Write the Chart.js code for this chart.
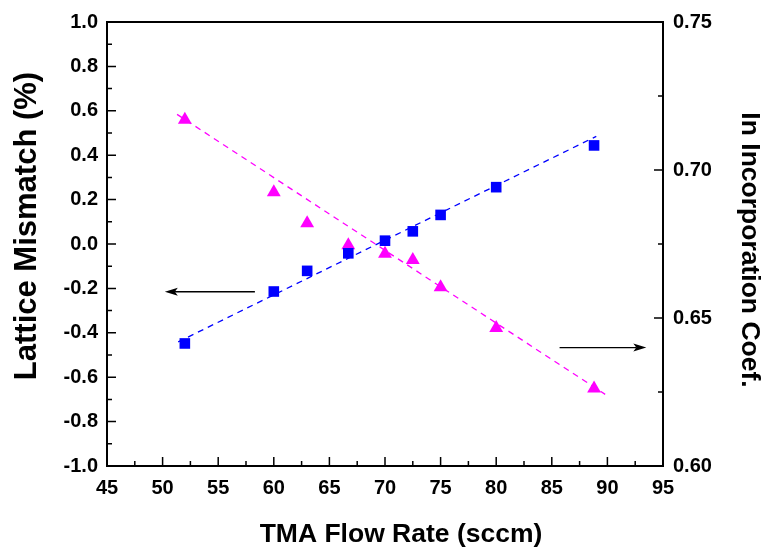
<!DOCTYPE html>
<html>
<head>
<meta charset="utf-8">
<script src="https://cdn.jsdelivr.net/npm/chart.js@4/dist/chart.umd.min.js"></script>
<style>
  html, body { margin: 0; padding: 0; background: #fff; }
  #wrap { width: 764px; height: 553px; }
</style>
</head>
<body>
<div id="wrap"><canvas id="chart" width="764" height="553"></canvas></div>
<script>
// ===== DATA =====
const flowRate  = [52, 60, 63, 66.7, 70, 72.5, 75, 80, 88.8];
const mismatch  = [-0.448, -0.214, -0.121, -0.042, 0.015, 0.057, 0.131, 0.256, 0.444];
const inCoef    = [0.717, 0.6925, 0.682, 0.6746, 0.6717, 0.6696, 0.6604, 0.6466, 0.6262];

// dashed fit lines (end points)
const fitMismatchX = [51.4, 89.0];
const fitMismatchY = [-0.441, 0.485];
const fitCoefX     = [51.3, 89.8];
const fitCoefY     = [0.7188, 0.6242];

// arrows pointing at each series' axis: [xFrom, xTo, y]
const arrowLeft  = [58.3, 50.2, -0.215];
const arrowRight = [85.7, 93.5, 0.640];

const xTicks  = [45, 50, 55, 60, 65, 70, 75, 80, 85, 90, 95];
const yTicks  = [-1.0, -0.8, -0.6, -0.4, -0.2, 0.0, 0.2, 0.4, 0.6, 0.8, 1.0];
const y1Ticks = [0.60, 0.65, 0.70, 0.75];

const xTitle  = 'TMA Flow Rate (sccm)';
const yTitle  = 'Lattice Mismatch (%)';
const y1Title = 'In Incorporation Coef.';

const BLUE = '#0000ff';
const MAGENTA = '#ff00ff';
const FONT = '"Liberation Sans", Arial, sans-serif';

const pts = (xs, ys) => xs.map((x, i) => ({ x, y: ys[i] }));

// inward ticks, top border, arrows and axis titles
const framePlugin = {
  id: 'frame',
  afterDatasetsDraw(chart) {
    const { ctx, chartArea: a, scales } = chart;
    const { x, y, y1 } = scales;
    ctx.save();
    ctx.strokeStyle = '#000';
    ctx.lineWidth = 2;
    ctx.beginPath();
    ctx.moveTo(a.left, a.top);
    ctx.lineTo(a.right, a.top);
    ctx.stroke();

    ctx.lineWidth = 1.5;
    const MAJ = 9, MIN = 5;
    ctx.beginPath();
    xTicks.forEach((v, i) => {
      const px = x.getPixelForValue(v);
      ctx.moveTo(px, a.bottom); ctx.lineTo(px, a.bottom - MAJ);
      if (i < xTicks.length - 1) {
        const pm = x.getPixelForValue(v + 2.5);
        ctx.moveTo(pm, a.bottom); ctx.lineTo(pm, a.bottom - MIN);
      }
    });
    yTicks.forEach((v, i) => {
      const py = y.getPixelForValue(v);
      ctx.moveTo(a.left, py); ctx.lineTo(a.left + MAJ, py);
      if (i < yTicks.length - 1) {
        const pm = y.getPixelForValue(v + 0.1);
        ctx.moveTo(a.left, pm); ctx.lineTo(a.left + MIN, pm);
      }
    });
    y1Ticks.forEach((v, i) => {
      const py = y1.getPixelForValue(v);
      ctx.moveTo(a.right, py); ctx.lineTo(a.right - MAJ, py);
      if (i < y1Ticks.length - 1) {
        const pm = y1.getPixelForValue(v + 0.025);
        ctx.moveTo(a.right, pm); ctx.lineTo(a.right - MIN, pm);
      }
    });
    ctx.stroke();

    const arrow = (scaleY, [x0, x1, v]) => {
      const p0 = x.getPixelForValue(x0), p1 = x.getPixelForValue(x1);
      const py = scaleY.getPixelForValue(v);
      const dir = Math.sign(p1 - p0);
      ctx.lineWidth = 1.3;
      ctx.beginPath();
      ctx.moveTo(p0, py); ctx.lineTo(p1 - dir * 10, py);
      ctx.stroke();
      ctx.beginPath();
      ctx.moveTo(p1, py);
      ctx.lineTo(p1 - dir * 13, py - 4);
      ctx.lineTo(p1 - dir * 10, py);
      ctx.lineTo(p1 - dir * 13, py + 4);
      ctx.closePath();
      ctx.fillStyle = '#000';
      ctx.fill();
    };
    arrow(y, arrowLeft);
    arrow(y1, arrowRight);

    // axis titles (placed as in the original figure, slightly off-centre)
    const title = (text, size, cx, cy, rot) => {
      ctx.save();
      ctx.translate(cx, cy);
      ctx.rotate(rot);
      ctx.font = `bold ${size}px ${FONT}`;
      ctx.fillStyle = '#000';
      ctx.textAlign = 'center';
      ctx.textBaseline = 'middle';
      ctx.fillText(text, 0, 0);
      ctx.restore();
    };
    title(xTitle, 26.5, 401, 535, 0);
    title(yTitle, 31, 27, 226, -Math.PI / 2);
    title(y1Title, 26.5, 749, 250, Math.PI / 2);
    ctx.restore();
  }
};

new Chart(document.getElementById('chart'), {
  type: 'scatter',
  data: {
    datasets: [
      { data: pts(fitMismatchX, fitMismatchY), yAxisID: 'y', showLine: true, borderColor: BLUE,
        borderWidth: 1.3, borderDash: [6, 5], pointRadius: 0 },
      { data: pts(fitCoefX, fitCoefY), yAxisID: 'y1', showLine: true, borderColor: MAGENTA,
        borderWidth: 1.3, borderDash: [6, 5], pointRadius: 0 },
      { data: pts(flowRate, mismatch), yAxisID: 'y', pointStyle: 'rect', pointRadius: 7.5,
        backgroundColor: BLUE, borderColor: BLUE, borderWidth: 0 },
      { data: pts(flowRate, inCoef), yAxisID: 'y1', pointStyle: 'triangle', pointRadius: 8,
        backgroundColor: MAGENTA, borderColor: MAGENTA, borderWidth: 0 }
    ]
  },
  options: {
    responsive: false,
    animation: false,
    layout: { padding: { top: 20, left: 0, right: 0, bottom: 0 } },
    plugins: { legend: { display: false }, tooltip: { enabled: false } },
    scales: {
      x: {
        type: 'linear', min: 45, max: 95,
        afterFit: s => { s.height = 87; },
        afterBuildTicks: s => { s.ticks = xTicks.map(v => ({ value: v })); },
        grid: { display: false, drawTicks: false },
        border: { display: true, color: '#000', width: 2 },
        ticks: { color: '#000', padding: 10, maxRotation: 0, font: { family: FONT, size: 20, weight: 'bold' },
                 callback: v => String(v) }
      },
      y: {
        type: 'linear', position: 'left', min: -1, max: 1,
        afterFit: s => { s.width = 107; },
        afterBuildTicks: s => { s.ticks = yTicks.map(v => ({ value: v })); },
        grid: { display: false, drawTicks: false },
        border: { display: true, color: '#000', width: 2 },
        ticks: { color: '#000', padding: 9, font: { family: FONT, size: 20, weight: 'bold' },
                 callback: v => v.toFixed(1) }
      },
      y1: {
        type: 'linear', position: 'right', min: 0.60, max: 0.75,
        afterFit: s => { s.width = 101; },
        afterBuildTicks: s => { s.ticks = y1Ticks.map(v => ({ value: v })); },
        grid: { display: false, drawTicks: false },
        border: { display: true, color: '#000', width: 2 },
        ticks: { color: '#000', padding: 10, font: { family: FONT, size: 20, weight: 'bold' },
                 callback: v => v.toFixed(2) }
      }
    }
  },
  plugins: [framePlugin]
});
</script>
</body>
</html>
